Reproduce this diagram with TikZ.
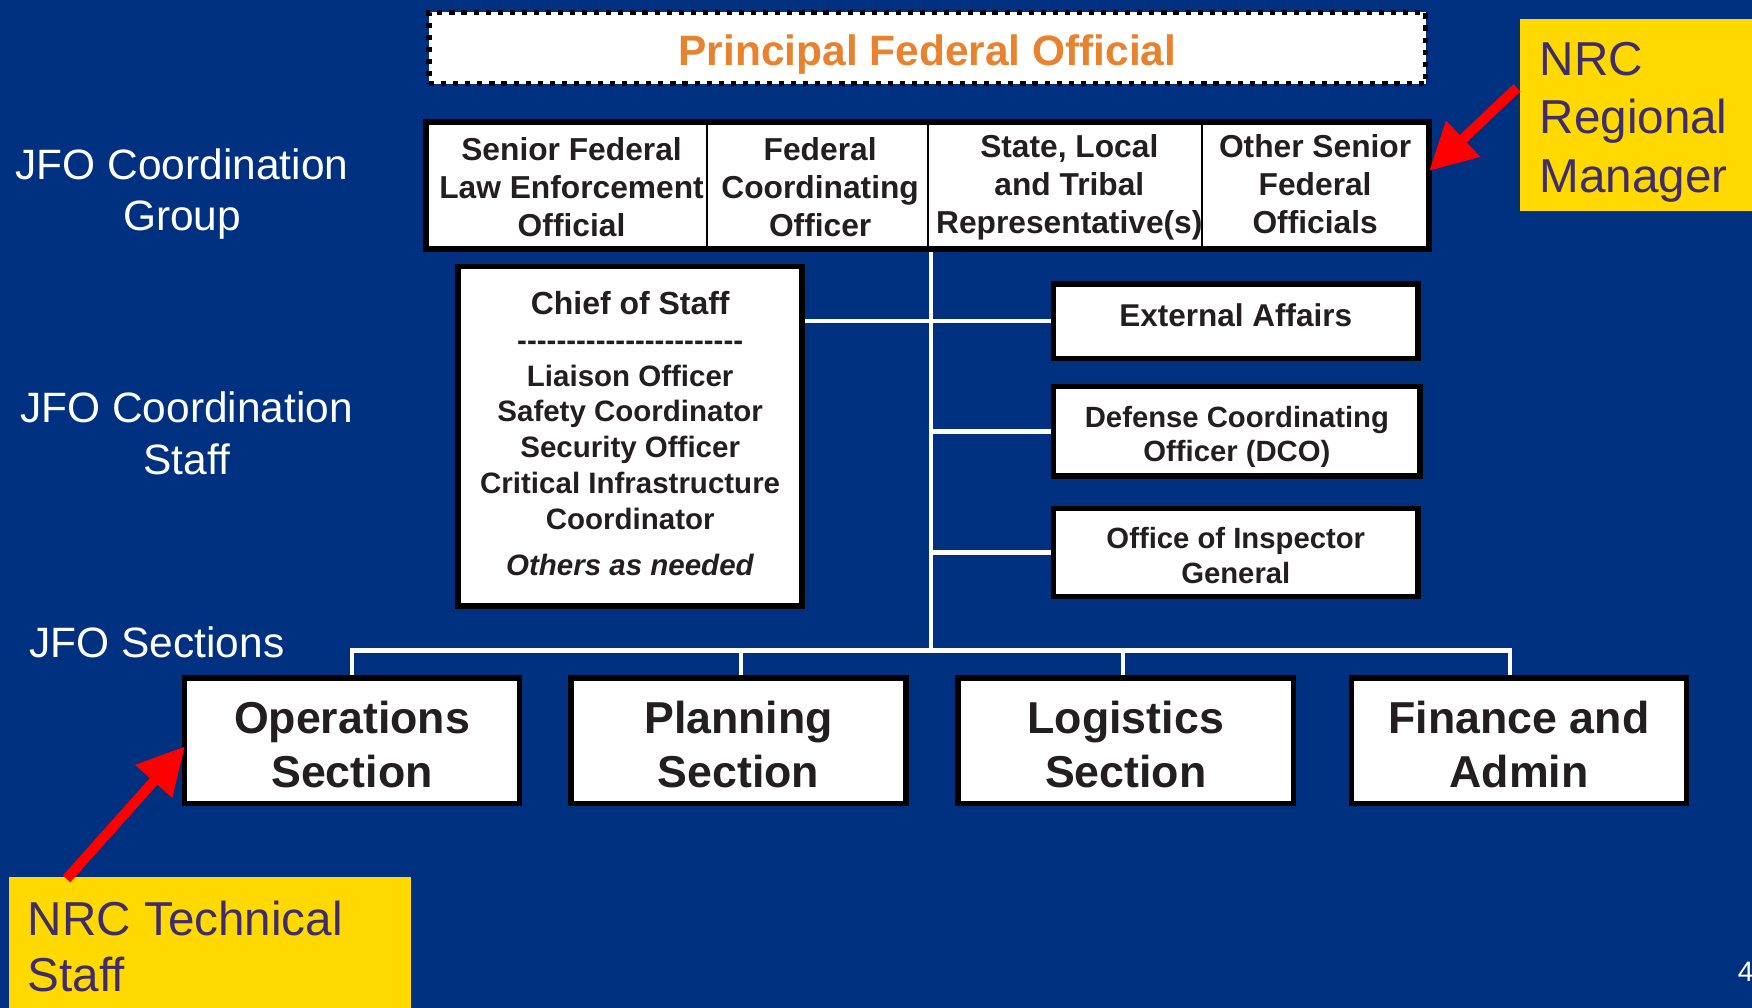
\documentclass[tikz,border=0pt]{standalone}
\usepackage{fontspec}
\setmainfont{Liberation Sans}
\usetikzlibrary{arrows.meta,calc}
\definecolor{bgblue}{RGB}{0,49,128}
\definecolor{yel}{RGB}{255,217,0}
\definecolor{purp}{RGB}{62,44,108}
\definecolor{orng}{RGB}{232,130,46}
\definecolor{txt}{RGB}{35,31,32}
\pgfdeclarelayer{back}
\pgfdeclarelayer{lines}
\pgfsetlayers{back,lines,main}
% #1: height of first baseline above node centre, #2: column type, #3: lines
\newcommand\tbl[3]{\raisebox{#1}[0pt][0pt]{\begin{tabular}[t]{@{}#2@{}}#3\end{tabular}}}
\tikzset{
  box/.style={draw=black, fill=white, line width=2.5pt, inner sep=0pt, text=txt, font=\bfseries},
  cell/.style={draw=black, fill=white, line width=1pt, inner sep=0pt, text=txt,
    minimum height=56pt, font=\bfseries\fontsize{14.2}{17}\selectfont},
  conn/.style={draw=white, line width=2pt},
  lbl/.style={text=white, inner sep=0pt, font=\fontsize{19}{23}\selectfont},
  ybox/.style={fill=yel, text=purp, inner sep=0pt, font=\fontsize{21.3}{26}\selectfont},
  redarrow/.style={draw=red, line width=4.5pt, -{Triangle[length=21pt,width=21pt]}},
  secbox/.style={box, minimum width=150pt, minimum height=56pt, font=\bfseries\fontsize{20}{24.5}\selectfont},
  sidebox/.style={box, minimum width=163pt, font=\bfseries\fontsize{13.1}{15.5}\selectfont}
}
\begin{document}
\begin{tikzpicture}[x=0.5pt,y=-0.5pt]
\useasboundingbox (0,0) rectangle (1568,902);
\begin{pgfonlayer}{back}
\fill[bgblue] (0,0) rectangle (1568,902);
\end{pgfonlayer}

% Principal Federal Official
\node[fill=white, draw=black, line width=2.3pt, dash pattern=on 2.3pt off 3.1pt,
      minimum width=446pt, minimum height=32pt, inner sep=0pt,
      text=orng, font=\bfseries\fontsize{19}{23}\selectfont] (pfo) at (830,43) {\tbl{-7.65pt}{c}{Principal Federal Official}};

% Coordination group row
\node[cell, minimum width=125.5pt] (c1) at (507.5,166) {\hspace*{4pt}\tbl{11.03pt}{c}{Senior Federal\\Law Enforcement\\Official}};
\node[cell, minimum width=99pt] (c2) at (732,166) {\hspace*{2pt}\tbl{11.03pt}{c}{Federal\\Coordinating\\Officer}};
\node[cell, minimum width=122.5pt] (c3) at (953.5,166) {\hspace*{3.5pt}\tbl{12.53pt}{c}{State, Local\\and Tribal\\Representative(s)}};
\node[cell, minimum width=101pt] (c4) at (1177,166) {\tbl{12.53pt}{c}{Other Senior\\Federal\\Officials}};
\draw[line width=2.5pt] (c1.north west) rectangle (c4.south east);

% Chief of staff
\node[box, minimum width=154pt, minimum height=152pt, font=\bfseries\fontsize{13.2}{16}\selectfont] (cos) at (564,390.5)
  {\tbl{54.5pt}{c}{{\fontsize{14.3}{16}\selectfont Chief of Staff}\\
   -{}-{}-{}-{}-{}-{}-{}-{}-{}-{}-{}-{}-{}-{}-{}-{}-{}-{}-{}-{}-{}-{}-\\
   Liaison Officer\\
   Safety Coordinator\\
   Security Officer\\
   Critical Infrastructure\\
   Coordinator\\[4.6pt]
   \textit{Others as needed}}};

% right-hand boxes
\node[sidebox, minimum height=33.5pt, font=\bfseries\fontsize{14.1}{16}\selectfont] (ea) at (1106,287.5) {\tbl{-2.19pt}{c}{External Affairs}};
\node[sidebox, minimum width=164pt, minimum height=40pt] (dco) at (1107,386) {\tbl{1.92pt}{c}{Defense Coordinating\\Officer (DCO)}};
\node[sidebox, minimum height=39.5pt] (oig) at (1106,494.5) {\tbl{1.67pt}{c}{Office of Inspector\\General}};

% sections
\node[secbox] (ops) at (315,663) {\tbl{3.5pt}{c}{Operations\\Section}};
\node[secbox] (plan) at (661,663) {\tbl{3.5pt}{c}{Planning\\Section}};
\node[secbox] (logi) at (1007.5,663) {\tbl{3.5pt}{c}{Logistics\\Section}};
\node[secbox] (fin) at (1359.5,663) {\tbl{3.5pt}{c}{Finance and\\Admin}};

% connectors
\coordinate (hub) at (833,582);
\begin{pgfonlayer}{lines}
\draw[conn] (c3.south west -| hub) -- (hub);
\draw[conn] (cos.east |- ea.west) -- (ea.west);
\draw[conn] (hub |- dco.west) -- (dco.west);
\draw[conn] (hub |- oig.west) -- (oig.west);
\draw[conn] (ops.north) |- (hub);
\draw[conn] (hub) -| ([xshift=-4pt]fin.north);
\draw[conn] (hub) -| ([xshift=1pt]plan.north);
\draw[conn] (hub) -| ([xshift=-1.25pt]logi.north);
\end{pgfonlayer}

% side labels
\node[lbl] (g1) at (163,170) {\tbl{4.85pt}{c}{JFO Coordination\\Group}};
\node[lbl] (g2) at (167,388) {\tbl{4.85pt}{c}{JFO Coordination\\Staff}};
\node[lbl, anchor=west] (g3) at (26,575) {\tbl{-6.65pt}{l}{JFO Sections}};

% yellow call-outs
\node[ybox, minimum width=104pt, minimum height=86pt] (nrcR) at (1464,103)
  {\makebox[86pt][l]{\tbl{17.55pt}{l}{NRC\\Regional\\Manager}}};
\node[ybox, minimum width=180pt, minimum height=58.5pt, font=\fontsize{21.3}{25}\selectfont] (nrcT) at (188,843.5)
  {\makebox[163pt][l]{\tbl{3.3pt}{l}{NRC Technical\\Staff}}};

% red arrows
\draw[redarrow] ($(nrcR.north west)+(-2,62)$) -- ($(c4.east)+(0,-13)$);
\draw[redarrow] ($(nrcT.north west)+(52,2)$) -- ($(ops.west)+(3,5)$);

% page number
\node[text=white, anchor=west, inner sep=0pt, font=\fontsize{12.6}{15}\selectfont] (pg) at (1555,870) {4};
\end{tikzpicture}
\end{document}
